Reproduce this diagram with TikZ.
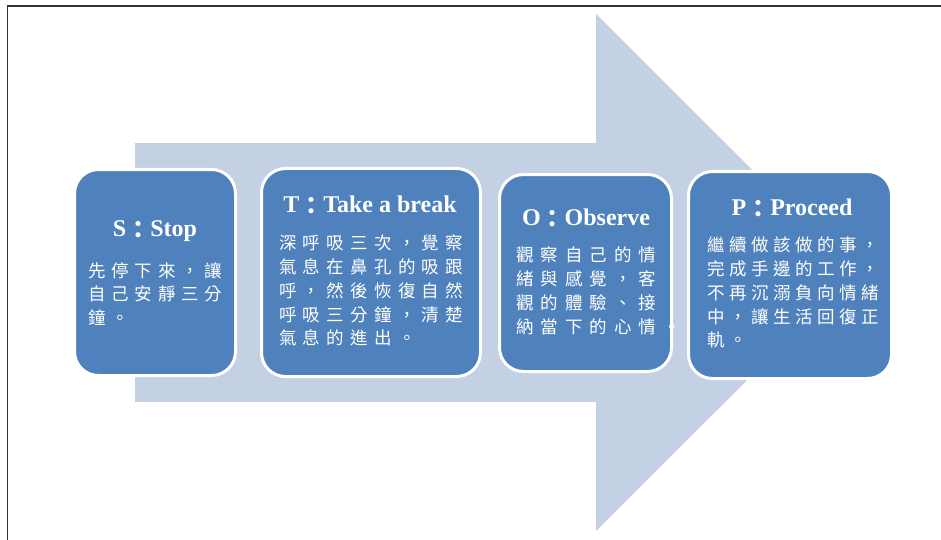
\documentclass[tikz,border=0pt]{standalone}
\usepackage{fontspec}
\setmainfont{Liberation Serif}
\newfontfamily\cjk{Noto Sans CJK TC}
\definecolor{boxblue}{RGB}{79,129,189}
\definecolor{arrowblue}{RGB}{196,208,227}
\definecolor{frame}{RGB}{50,50,50}
\newcommand\tcolon{\raisebox{-2.5pt}{\cjk ：}}

\begin{document}
\begin{tikzpicture}[x=1pt,y=-1pt,
    box/.style={draw=white,line width=3pt,fill=boxblue,rounded corners=24pt,
        inner sep=0pt,minimum width=#1},
    title/.style={text=white,font=\fontsize{24}{27}\selectfont\bfseries,inner sep=0pt},
    body/.style={text=white,anchor=north west,inner sep=0pt,align=left,
        font=\cjk\fontsize{17.5}{23.7}\selectfont\addfontfeature{LetterSpace=#1}}]
    \useasboundingbox (0,0) rectangle (941,540);
    \draw[frame,line width=1.5pt] (7.5,540) -- (7.5,6) -- (941,6);
    % big arrow
    \coordinate (A) at (135,143);
    \coordinate (B) at (596,402);
    \fill[arrowblue] (A) rectangle (B);
    \fill[arrowblue] (596,14) -- (855,272.5) -- (596,531) -- cycle;
    % boxes
    \node[box=161pt,minimum height=206pt] (S) at (155,272.5) {};
    \node[box=219pt,minimum height=208pt] (T) at (371,272.5) {};
    \node[box=172pt,minimum height=197pt] (O) at (585.5,273) {};
    \node[box=203pt,minimum height=207pt] (P) at (790,275) {};
    % titles
    \node[title] at (155,231) {S\tcolon Stop};
    \node[title] at (370,205) {T\tcolon Take a break};
    \node[title] at (586,218) {O\tcolon Observe};
    \node[title] at (792,208) {P\tcolon Proceed};
    % texts
    \node[body=33] at (88,262) {先停下來，讓\\自己安靜三分\\鐘。};
    \node[body=36] at (279,235) {深呼吸三次，覺察\\氣息在鼻孔的吸跟\\呼，然後恢復自然\\呼吸三分鐘，清楚\\氣息的進出。};
    \node[body=40] at (516,247) {觀察自己的情\\緒與感覺，客\\觀的體驗、接\\納當下的心情。};
    \node[body=26] at (707,237) {繼續做該做的事，\\完成手邊的工作，\\不再沉溺負向情緒\\中，讓生活回復正\\軌。};
\end{tikzpicture}
\end{document}
